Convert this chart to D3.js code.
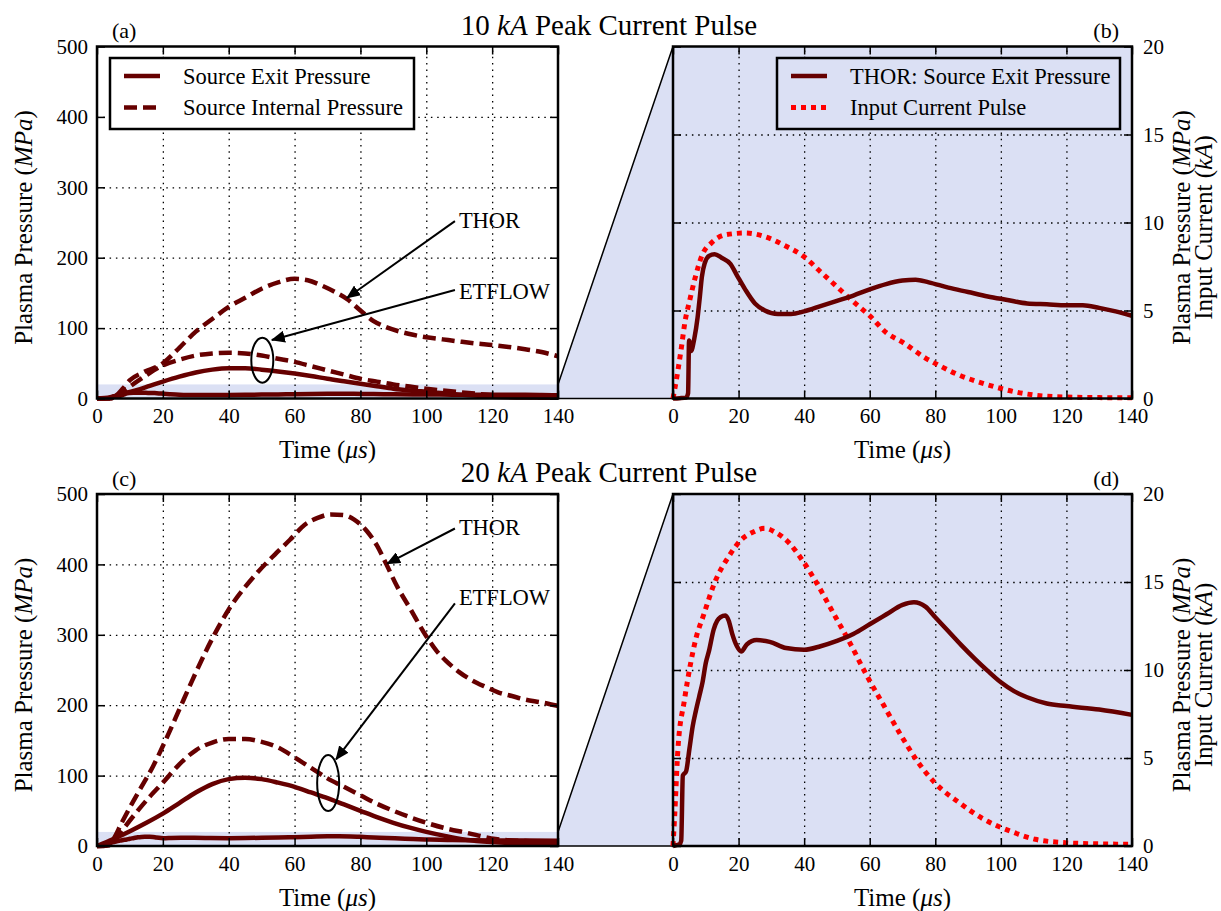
<!DOCTYPE html>
<html>
<head>
<meta charset="utf-8">
<script src="https://cdn.jsdelivr.net/npm/d3@7"></script>
<style>
body { margin: 0; background: #fff; }
svg, svg text { font-family: "Liberation Serif", "Times New Roman", serif; }
</style>
</head>
<body>
<script>
// ---- data ----
// time axis ticks (us)
const xTicks = [0, 20, 40, 60, 80, 100, 120, 140];
const yTicksWide = [0, 100, 200, 300, 400, 500];
const yTicksZoom = [0, 5, 10, 15, 20];

// 10 kA pulse
const tThorExit10 = [0,2,4,4.6,4.9,5.5,6.5,7.5,8.2,8.8,9.7,11,12.7,14.8,17.5,19.5,22,25,28,32,36,40,45,50,55,60,65,70,74,78,84,90,96,102,108,114,120,125,130,135,140];
const pThorExit10 = [0,0.02,0.05,0.3,3.3,2.7,3.4,4.6,5.8,6.9,7.7,8.1,8.2,8.0,7.65,7.0,6.2,5.4,5.0,4.8,4.8,4.95,5.25,5.55,5.85,6.2,6.5,6.7,6.75,6.6,6.3,6.05,5.8,5.6,5.4,5.35,5.3,5.3,5.15,4.95,4.7];
const tCurrent10 = [0,0.5,1.5,2.6,3.6,5,6.6,9,11.7,16,22,28,34,40,45,50,55,60,65,70,77,82,87,93,100,105,110,120,130,140];
const iCurrent10 = [0,0.5,1.6,2.95,4.3,5.5,6.75,8.2,8.84,9.3,9.4,9.2,8.7,8.05,7.2,6.35,5.5,4.7,3.75,3.2,2.3,1.8,1.35,0.95,0.57,0.35,0.2,0.08,0.05,0.04];
const tThorInt10 = [0,4,6,8,10,14,20,25,30,35,40,45,50,55,60,64,68,72,76,80,84,88,92,96,100,105,110,115,120,125,130,135,140];
const pThorInt10 = [0,0.5,5,15,26,37,50,72,95,113,130,143,156,165,170,168,161,152,141,125,110,101,95,90.5,87,84,81,78.2,76,73.3,70,66,60];
const tEtInt10 = [0,4,6,8,10,14,20,25,30,35,40,45,50,55,60,65,70,75,80,85,90,95,100,110,120,130,140];
const pEtInt10 = [0,0.5,4,10,17,30,47,55,61,64,65,64,61,56.5,52,46,40,34,28,24,20,17,14,9,5,2.5,1];
const tEtExit10 = [0,4,8,12,16,20,25,30,35,40,45,50,55,60,65,70,75,80,85,90,95,100,110,120,130,140];
const pEtExit10 = [0,2,7,12,18,24,31,37,41,43,43,41,38.5,35.5,32,28,24.5,21,17.5,14,11.5,9.5,5.5,2.5,1.3,1];

// 20 kA pulse
const tThorExit20 = [0,1,2,2.5,3,4,5,6,7,8,9,10,11,12.4,13.5,14.5,16,17,18,19.5,20.8,22.5,25.5,29.5,34.5,40,45,50,55,60,65,70,73.5,77,80,84,88,92,96,100,104,108,114,120,130,140];
const pThorExit20 = [0,0.05,0.1,0.3,4.0,4.25,5.5,6.8,7.7,8.5,9.3,10.4,11.1,12.3,12.8,13.0,13.1,12.8,12.1,11.35,11.05,11.45,11.7,11.6,11.25,11.15,11.35,11.65,12.05,12.6,13.15,13.7,13.85,13.6,13.0,12.2,11.4,10.65,9.95,9.3,8.8,8.45,8.1,7.95,7.75,7.45];
const tCurrent20 = [0,0.5,1.5,3.5,5.4,7,9.2,13,17,20.8,24.6,28,31,35.5,39.4,43.8,49,53.5,59.2,64.4,69.5,74.6,79.8,87.4,95,102.8,110.5,119.5,130,140];
const iCurrent20 = [0,1.7,5.5,8.3,10.4,11.8,13.05,15.1,16.45,17.4,17.85,18.05,17.85,17.2,16.25,14.95,13.2,11.7,9.65,7.95,6.3,4.8,3.6,2.45,1.5,0.85,0.38,0.19,0.12,0.1];
const tThorInt20 = [0,3,5,7.5,10,13,17,21,25,29,33,37,40,45,49,54,58.6,63,67,71,75,78,82,85,88,91,95,100,103,106,110,114,118,122,126,130,135,140];
const pThorInt20 = [0,1,10,33,55,80,113,152,194,236,276,312,336,368,390,414,435,456,466,471,470,464,447,427,399,370,338,298,278,263,247,235,226,218,213,208,204,199];
const tEtInt20 = [0,4,6,8.6,12,16,20,25,30,35,40,45,50,55,60,65,70,75,80,85,90,95,100,106,112,121,130,140];
const pEtInt20 = [0,1,12,28,48,70,90,116,136,147,152,152,148,140,126,111,96,84,72,60,50,41,33,25,19,10,7,5];
const tEtExit20 = [0,5,10,15,20,25,30,35,40,45,50,55,60,65,70,75,80,85,90,95,100,106,112,120,130,140];
const pEtExit20 = [0,10,21,33,46,61,76,88,95,97,95,90,84,76,68,59,50,41,33,26,20,14,9,5.5,3.5,2.4];

const legendLeft = ["Source Exit Pressure", "Source Internal Pressure"];
const legendRight = ["THOR: Source Exit Pressure", "Input Current Pulse"];
const annotLabels = ["THOR", "ETFLOW"];
// arrows: [textX, textY, tailX, tailY, tipX, tipY] in data units
const arrows10 = [[109.9, 242, 108.7, 252, 75.9, 142.8], [109.9, 141, 108.7, 154, 53.1, 83]];
const arrows20 = [[109.9, 441.5, 108.7, 451, 88.1, 401], [109.9, 342, 108.7, 344.5, 72.6, 123]];
const ellipse10 = [50.2, 54.5];
const ellipse20 = [70.2, 89.4];

// ---- drawing ----
const SHADE = "#dbe0f4", DARK = "#660000", RED = "#ff0000";
const FONT = "Liberation Serif, Times New Roman, serif";

const svg = d3.select("body").append("svg")
    .attr("width", 1221).attr("height", 911)
    .attr("font-family", FONT);

const defs = svg.append("defs");
defs.append("marker")
    .attr("id", "head")
    .attr("markerUnits", "userSpaceOnUse")
    .attr("viewBox", "0 0 14 12")
    .attr("markerWidth", 14).attr("markerHeight", 12)
    .attr("refX", 13).attr("refY", 6)
    .attr("orient", "auto")
  .append("path").attr("d", "M0,0 L14,6 L0,12 Z").attr("fill", "#000");

function rich(sel, parts){
    parts.forEach(function(p){
        sel.append("tspan").text(p[0]).style("font-style", p[1] ? "italic" : "normal");
    });
}

function line(x, y){
    return d3.line().x(d => x(d[0])).y(d => y(d[1])).curve(d3.curveMonotoneX);
}

function makePanel(p){
    const x = d3.scaleLinear().domain([0, 140]).range([p.x0, p.x1]);
    const y = d3.scaleLinear().domain([0, p.ymax]).range([p.y1, p.y0]);
    const w = p.x1 - p.x0, h = p.y1 - p.y0;
    const g = svg.append("g");

    defs.append("clipPath").attr("id", "clip" + p.tag)
      .append("rect").attr("x", p.x0).attr("y", p.y0).attr("width", w).attr("height", h);

    g.append("rect").attr("x", p.x0).attr("y", p.y0).attr("width", w).attr("height", h)
        .attr("fill", p.bg ? SHADE : "#fff");
    if (p.strip)
        g.append("rect").attr("x", p.x0).attr("y", y(p.strip)).attr("width", w)
            .attr("height", y(0) - y(p.strip)).attr("fill", SHADE);

    // dotted grid
    g.append("g").attr("transform", "translate(0," + p.y1 + ")")
        .call(d3.axisBottom(x).tickValues(xTicks.slice(1, -1)).tickSize(-h).tickFormat(""))
        .call(s => s.select(".domain").remove());
    g.append("g").attr("transform", "translate(" + p.x0 + ",0)")
        .call(d3.axisLeft(y).tickValues(p.yTicks.slice(1, -1)).tickSize(-w).tickFormat(""))
        .call(s => s.select(".domain").remove());
    g.selectAll(".tick line").attr("stroke", "#000").attr("stroke-width", 1.3)
        .attr("stroke-dasharray", "1.5,4.8");

    const lines = g.append("g").attr("clip-path", "url(#clip" + p.tag + ")");
    p.series.forEach(function(s){
        lines.append("path")
            .datum(d3.zip(s.t, s.v))
            .attr("fill", "none")
            .attr("stroke", s.color)
            .attr("stroke-width", s.width || 4.5)
            .attr("stroke-dasharray", s.dash || null)
            .attr("stroke-linejoin", "round")
            .attr("d", line(x, y));
    });

    // inward ticks on all four sides
    const tk = g.append("g");
    tk.append("g").attr("transform", "translate(0," + p.y1 + ")")
        .call(d3.axisBottom(x).tickValues(xTicks).tickSizeInner(-8).tickSizeOuter(0).tickPadding(10));
    tk.append("g").attr("transform", "translate(0," + p.y0 + ")")
        .call(d3.axisTop(x).tickValues(xTicks).tickSizeInner(-8).tickSizeOuter(0).tickFormat(""));
    tk.append("g").attr("transform", "translate(" + p.x0 + ",0)")
        .call(d3.axisLeft(y).tickValues(p.yTicks).tickSizeInner(-8).tickSizeOuter(0).tickPadding(9)
            .tickFormat(p.labelSide === "left" ? d3.format("d") : ""));
    tk.append("g").attr("transform", "translate(" + p.x1 + ",0)")
        .call(d3.axisRight(y).tickValues(p.yTicks).tickSizeInner(-8).tickSizeOuter(0).tickPadding(11)
            .tickFormat(p.labelSide === "right" ? d3.format("d") : ""));
    tk.selectAll("g").attr("font-family", FONT).attr("font-size", 21);
    tk.selectAll(".domain").remove();
    tk.selectAll("line").attr("stroke", "#000").attr("stroke-width", 1.5);
    tk.selectAll("text").attr("fill", "#000");

    g.append("rect").attr("x", p.x0).attr("y", p.y0).attr("width", w).attr("height", h)
        .attr("fill", "none").attr("stroke", "#000").attr("stroke-width", 2.5);

    // x label
    rich(g.append("text").attr("x", (p.x0 + p.x1) / 2).attr("y", p.y1 + 59.5)
        .attr("text-anchor", "middle").attr("font-size", 25),
        [["Time (", false], ["\u03bcs", true], [")", false]]);

    // panel tag
    g.append("text").text(p.tag)
        .attr("x", p.labelSide === "left" ? p.x0 + 15 : p.x1 - 13)
        .attr("y", p.y0 - 8.5)
        .attr("text-anchor", p.labelSide === "left" ? "start" : "end")
        .attr("font-size", 22);

    return {x: x, y: y, g: g};
}

function legend(g, bx, by, bw, labels, styles, fill){
    g.append("rect").attr("x", bx).attr("y", by).attr("width", bw).attr("height", 71)
        .attr("fill", fill).attr("stroke", "#000").attr("stroke-width", 2.5);
    labels.forEach(function(lab, i){
        const ly = by + 18 + i * 31.5;
        g.append("line").attr("x1", bx + 14).attr("x2", bx + 50).attr("y1", ly).attr("y2", ly)
            .attr("stroke", styles[i].color).attr("stroke-width", styles[i].width || 4.5)
            .attr("stroke-dasharray", styles[i].dash || null);
        g.append("text").text(lab).attr("x", bx + 73).attr("y", ly).attr("dy", "0.35em")
            .attr("font-size", 22.5);
    });
}

function annotate(P, arrows, ell, ry){
    arrows.forEach(function(a, i){
        P.g.append("text").text(annotLabels[i]).attr("x", P.x(a[0])).attr("y", P.y(a[1]))
            .attr("font-size", 22.5);
        P.g.append("line")
            .attr("x1", P.x(a[2])).attr("y1", P.y(a[3]))
            .attr("x2", P.x(a[4])).attr("y2", P.y(a[5]))
            .attr("stroke", "#000").attr("stroke-width", 2)
            .attr("marker-end", "url(#head)");
    });
    P.g.append("ellipse").attr("cx", P.x(ell[0])).attr("cy", P.y(ell[1]))
        .attr("rx", 11).attr("ry", ry)
        .attr("fill", "none").attr("stroke", "#000").attr("stroke-width", 2);
}

const solid = {color: DARK}, dashed = {color: DARK, dash: "13,6"}, dotted = {color: RED, dash: "5,5", width: 5};

const rowsCfg = [
    {y0: 46.5, y1: 398.5, tags: ["(a)", "(b)"], amp: "10",
     wide: [[tThorExit10, pThorExit10, solid], [tEtExit10, pEtExit10, solid], [tEtInt10, pEtInt10, dashed], [tThorInt10, pThorInt10, dashed]],
     zoom: [[tCurrent10, iCurrent10, dotted], [tThorExit10, pThorExit10, solid]],
     arrows: arrows10, ell: ellipse10, ry: 22.5, legend: true},
    {y0: 494, y1: 846, tags: ["(c)", "(d)"], amp: "20",
     wide: [[tThorExit20, pThorExit20, solid], [tEtExit20, pEtExit20, solid], [tEtInt20, pEtInt20, dashed], [tThorInt20, pThorInt20, dashed]],
     zoom: [[tCurrent20, iCurrent20, dotted], [tThorExit20, pThorExit20, solid]],
     arrows: arrows20, ell: ellipse20, ry: 28, legend: false}
];

rowsCfg.forEach(function(r){
    const toSeries = a => ({t: a[0], v: a[1], color: a[2].color, dash: a[2].dash, width: a[2].width});

    // connector patch (drawn first so the panels sit on top)
    const conn = svg.append("g");

    const L = makePanel({tag: r.tags[0], x0: 97, x1: 558, y0: r.y0, y1: r.y1, ymax: 500,
        yTicks: yTicksWide, labelSide: "left", strip: 20, series: r.wide.map(toSeries)});
    const R = makePanel({tag: r.tags[1], x0: 673, x1: 1132, y0: r.y0, y1: r.y1, ymax: 20,
        yTicks: yTicksZoom, labelSide: "right", bg: true, series: r.zoom.map(toSeries)});

    conn.append("polygon")
        .attr("points", [[L.x(140), L.y(20)], [R.x(0), R.y(20)], [R.x(0), R.y(0)], [L.x(140), L.y(0)]]
            .map(d => d.join(",")).join(" "))
        .attr("fill", SHADE).attr("stroke", "#000").attr("stroke-width", 1.5);

    annotate(L, r.arrows, r.ell, r.ry);

    if (r.legend){
        legend(L.g, 110, r.y0 + 11.5, 304, legendLeft, [solid, dashed], "#fff");
        legend(R.g, 777, r.y0 + 11.5, 343, legendRight, [solid, dotted], SHADE);
    }

    const cy = (r.y0 + r.y1) / 2 + 5;
    rich(svg.append("text").attr("transform", "translate(32," + cy + ") rotate(-90)")
        .attr("text-anchor", "middle").attr("font-size", 25),
        [["Plasma Pressure (", false], ["MPa", true], [")", false]]);
    rich(svg.append("text").attr("transform", "translate(1190," + cy + ") rotate(-90)")
        .attr("text-anchor", "middle").attr("font-size", 25),
        [["Plasma Pressure (", false], ["MPa", true], [")", false]]);
    rich(svg.append("text").attr("transform", "translate(1212," + cy + ") rotate(-90)")
        .attr("text-anchor", "middle").attr("font-size", 25),
        [["Input Current (", false], ["kA", true], [")", false]]);

    rich(svg.append("text").attr("x", 609).attr("y", r.y0 - 12)
        .attr("text-anchor", "middle").attr("font-size", 29),
        [[r.amp + " ", false], ["kA", true], [" Peak Current Pulse", false]]);
});
</script>
</body>
</html>
